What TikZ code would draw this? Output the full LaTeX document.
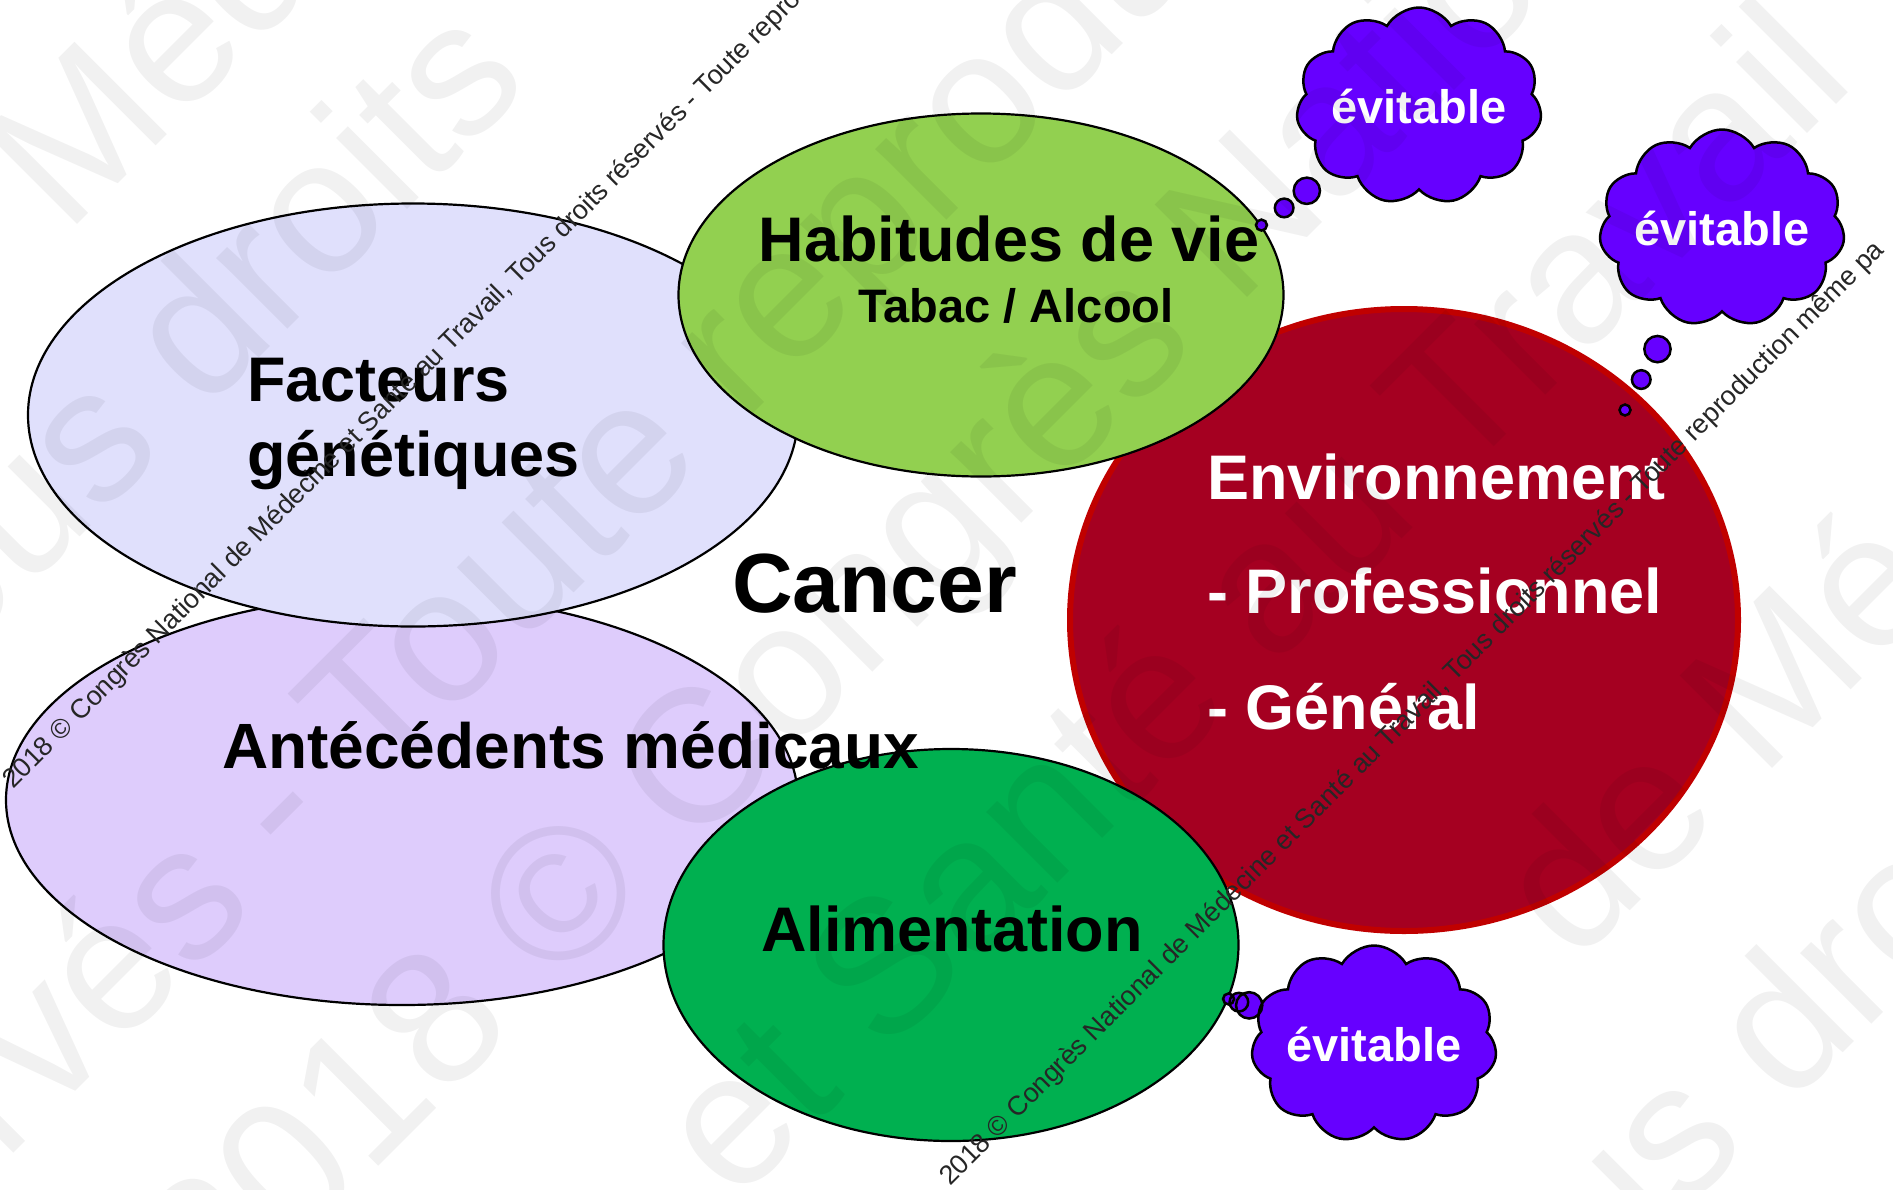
\documentclass[tikz,border=0pt]{standalone}
\usepackage{fontspec}
\setmainfont{Liberation Sans}
\usepackage{tikz}
\usetikzlibrary{shapes.geometric, shapes.callouts}

\definecolor{antfill}{HTML}{DECCFC}
\definecolor{facfill}{HTML}{E0E0FC}
\definecolor{habfill}{HTML}{92D050}
\definecolor{envfill}{HTML}{A50021}
\definecolor{envline}{HTML}{C00000}
\definecolor{alifill}{HTML}{00B050}
\definecolor{evifill}{HTML}{6600FF}

\begin{document}
\begin{tikzpicture}[x=1pt, y=-1pt]
        % Define the styles
        \tikzstyle{bulle}=[ellipse, draw, line width=2.2pt, inner sep=0pt]
        \tikzstyle{nuage}=[cloud callout, draw, line width=2.5pt, fill=evifill, text=white,
            font=\fontsize{47}{50}\selectfont\bfseries, cloud puffs=11, cloud puff arc=120,
            cloud ignores aspect, minimum width=242pt, minimum height=197pt, inner sep=0pt,
            callout pointer segments=3, callout pointer start size=34pt, callout pointer end size=11pt]
        \tikzstyle{titre}=[font=\fontsize{63}{70}\selectfont\bfseries, inner sep=0pt]
        \tikzstyle{filigrane}=[font=\fontsize{27}{30}\selectfont, text=black!85, rotate=45, anchor=base west, inner sep=0pt]
        \tikzstyle{fond}=[font=\fontsize{190}{200}\selectfont, text=black, text opacity=0.055, rotate=45, anchor=base west, inner sep=0pt]

        \useasboundingbox (0,0) rectangle (1893,1189);
        \clip (0,0) rectangle (1893,1189);

        % Define the ellipses
        \node[bulle, fill=antfill, minimum width=792pt, minimum height=410pt] (ant) at (402,800) {};
        \node[bulle, fill=facfill, minimum width=770pt, minimum height=423pt] (fac) at (413,415) {};
        \node[bulle, fill=envfill, draw=envline, line width=6pt, minimum width=668pt, minimum height=622pt] (env) at (1404,620) {};
        \node[bulle, fill=habfill, minimum width=605pt, minimum height=363pt] (hab) at (981,295) {};
        \node[bulle, fill=alifill, minimum width=575pt, minimum height=392pt] (ali) at (951,945) {};

        % Define the clouds
        \coordinate (tip2) at (1625,410);
        \node[nuage, callout absolute pointer=(hab.14)] (ev1) at (1419,106) {évitable};
        \node[nuage, callout absolute pointer=(tip2)] (ev2) at (1722,228) {évitable};
        \node[nuage, callout absolute pointer=(ali.-11)] (ev3) at (1374,1044) {évitable};

        % Define the labels
        \node[titre, anchor=base west] (fac1) at (247,401) {Facteurs};
        \node[titre, anchor=base west] (fac2) at (247,476) {génétiques};
        \node[titre, anchor=base] (hab1) at (1009,261) {Habitudes de vie};
        \node[anchor=base, inner sep=0pt, font=\fontsize{47}{50}\selectfont\bfseries] (hab2) at (1016,322) {Tabac / Alcool};
        \node[anchor=base west, inner sep=0pt, font=\fontsize{84}{90}\selectfont\bfseries] (can) at (732,612) {Cancer};
        \node[titre, anchor=base west, font=\fontsize{64}{70}\selectfont\bfseries] (ant1) at (222,768) {Antécédents médicaux};
        \node[titre, anchor=base] (ali1) at (952,951) {Alimentation};
        \node[titre, text=white, anchor=base west] (env1) at (1207,499) {Environnement};
        \node[titre, text=white, anchor=base west] (env2) at (1207,613) {- Professionnel};
        \node[titre, text=white, anchor=base west] (env3) at (1207,729) {- Général};

        % Define the copyright lines
        \node[filigrane] (cp1) at (13,790) {2018 © Congrès National de Médecine et Santé au Travail, Tous droits réservés - Toute repro};
        \node[filigrane] (cp2) at (950,1187) {2018 © Congrès National de Médecine et Santé au Travail, Tous droits réservés - Toute reproduction même pa};

        % Define the faint background text
        \node[fond] (bg1) at (66,236) {Médecine};
        \node[fond] (bg2) at (-117,734) {Tous droits};
        \node[fond] (bg3) at (-257,1424) {réservés - Toute reproduction};
        \node[fond] (bg4) at (219,1326) {2018 © Congrès National};
        \node[fond] (bg5) at (735,1206) {et Santé au Travail};
        \node[fond] (bg6) at (1575,966) {de Médecine};
        \node[fond] (bg7) at (1467,1429) {Tous droits};
    \end{tikzpicture}
\end{document}
